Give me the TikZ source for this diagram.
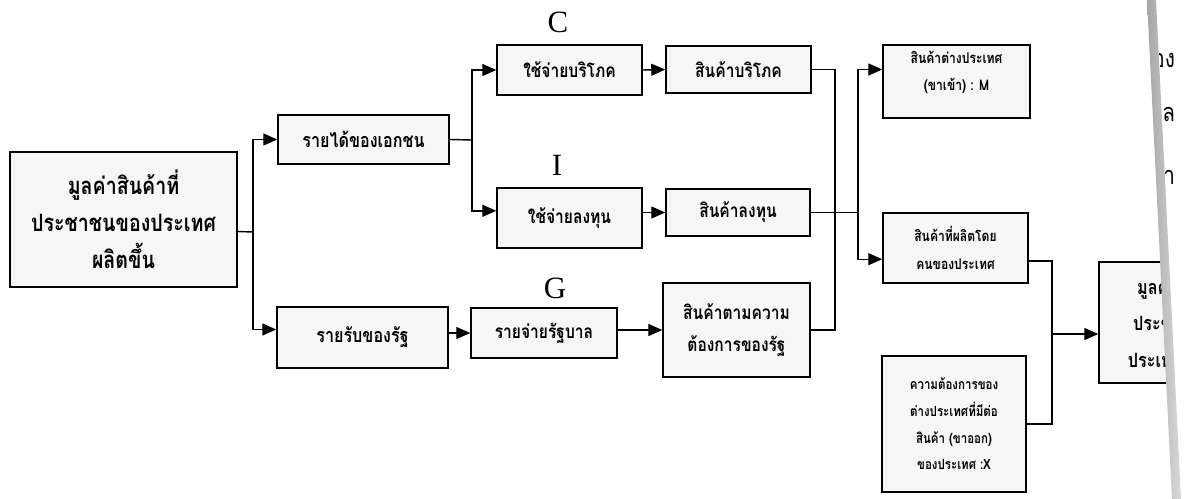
\documentclass[tikz,border=0pt]{standalone}
\usepackage{fontspec}
\newfontfamily\thaifont[Script=Thai, FakeStretch=0.82]{Loma}
\newfontfamily\letterfont{Liberation Serif}
\usetikzlibrary{arrows.meta}

\begin{document}
\begin{tikzpicture}[x=0.025cm, y=-0.025cm,
  box/.style={draw, line width=1pt, fill=gray!7, align=center, inner sep=0pt,
    font=\thaifont\bfseries\fontsize{14}{26}\selectfont},
  bigbox/.style={box, font=\thaifont\bfseries\fontsize{17}{26.3}\selectfont},
  midbox/.style={box, font=\thaifont\bfseries\fontsize{13.5}{22.7}\selectfont},
  smallbox/.style={box, font=\thaifont\bfseries\fontsize{10.5}{19.5}\selectfont},
  line/.style={line width=1pt},
  arr/.style={line, -{Triangle[length=3.5mm,width=3mm]}},
  letter/.style={font=\letterfont\fontsize{22}{22}\selectfont},
  frag/.style={anchor=east, font=\thaifont\fontsize{18}{18}\selectfont}]

\useasboundingbox (0,0) rectangle (1192,499);

\begin{scope}
\clip (0,0) -- (1151,0) -- (1176,499) -- (0,499) -- cycle;

% left part
\node[bigbox, minimum width=5.675cm, minimum height=3.375cm] (total) at (123.5,219.5)
  {มูลค่าสินค้าที่\\ประชาชนของประเทศ\\ผลิตขึ้น};
\node[box, minimum width=4.275cm, minimum height=1.225cm] (income) at (363.5,139.5) {รายได้ของเอกชน};
\node[box, minimum width=4.275cm, minimum height=1.525cm] (revenue) at (362.5,337.5) {รายรับของรัฐ};

% C, I, G
\node[midbox, minimum width=3.625cm, minimum height=1.25cm] (cons) at (569.5,70) {ใช้จ่ายบริโภค};
\node[midbox, minimum width=3.625cm, minimum height=1.5cm] (inv) at (569.5,218) {ใช้จ่ายลงทุน};
\node[midbox, minimum width=3.65cm, minimum height=1.25cm] (gov) at (544,333) {รายจ่ายรัฐบาล};
\node[letter] (lc) at (558,22) {C};
\node[letter] (li) at (557,165) {I};
\node[letter] (lg) at (555,288) {G};

\node[midbox, minimum width=3.625cm, minimum height=1.175cm] (consgoods) at (738.5,69.5) {สินค้าบริโภค};
\node[midbox, minimum width=3.6cm, minimum height=1.175cm] (invgoods) at (738,212.5) {สินค้าลงทุน};
\node[midbox, minimum width=3.675cm, minimum height=2.35cm] (govgoods) at (736.5,330)
  {สินค้าตามความ\\ต้องการของรัฐ};

% right part
\node[smallbox, minimum width=3.675cm, minimum height=1.825cm] (import) at (956.5,81.5)
  {สินค้าต่างประเทศ\\(ขาเข้า) : M\\[-4pt]};
\node[smallbox, minimum width=3.625cm, minimum height=1.75cm] (domestic) at (955.5,248)
  {สินค้าที่ผลิตโดย\\คนของประเทศ};
\node[smallbox, minimum width=3.6cm, minimum height=3.4cm,
  font=\thaifont\bfseries\fontsize{10}{19}\selectfont] (export) at (954,424)
  {ความต้องการของ\\ต่างประเทศที่มีต่อ\\สินค้า (ขาออก)\\ของประเทศ :X};
\node[box, minimum width=3.75cm, minimum height=3.025cm, text width=3.3cm, align=left] (final) at (1174,322.5)
  {\hspace*{0.73cm}มูลค่าสินค้า\\\hspace*{0.63cm}ประชาชน\\\hspace*{0.5cm}ประเทศ};

% connectors
\coordinate (s1) at (253,232);
\coordinate (s2) at (472,140);
\coordinate (b1) at (835,0);
\coordinate (b2) at (858,0);
\coordinate (b3) at (1052,0);
\coordinate (m3) at (1052,334);

\draw[line] ([yshift=-3mm]total.east) -- (s1);
\draw[arr] (s1) |- (income.west);
\draw[arr] (s1) |- ([yshift=2mm]revenue.west);
\draw[line] (income.east) -- (s2);
\draw[arr] (s2) |- (cons.west);
\draw[arr] (s2) |- ([yshift=1.8mm]inv.west);
\draw[arr] (revenue.east |- gov.west) -- (gov.west);

\draw[arr] (cons.east) -- (consgoods.west);
\draw[arr] (inv.east |- invgoods.west) -- (invgoods.west);
\draw[arr] (gov.east |- govgoods.west) -- (govgoods.west);

\draw[line] (consgoods.east) -| (b1 |- govgoods.east) -- (govgoods.east);
\draw[line] (invgoods.east) -- (b2 |- invgoods.east);
\draw[arr] (b2 |- invgoods.east) |- ([yshift=3mm]import.west);
\draw[arr] (b2 |- invgoods.east) |- ([yshift=-2.8mm]domestic.west);

\draw[line] ([yshift=-3.2mm]domestic.east) -| (b3 |- export.east) -- (export.east);
\draw[arr] (m3) -- (m3 -| final.west);
\end{scope}

% page edge and the next page
\shade[left color=gray!70, right color=gray!30] (1147,0) -- (1156,0) -- (1181,499) -- (1172,499) -- cycle;
\begin{scope}
\clip (1156,0) -- (1192,0) -- (1192,499) -- (1181,499) -- cycle;
\node[frag] (frag1) at (1180,60) {ของ};
\node[frag] (frag2) at (1180,118) {มูล};
\node[frag] (frag3) at (1180,177) {กา};
\end{scope}
\end{tikzpicture}
\end{document}
